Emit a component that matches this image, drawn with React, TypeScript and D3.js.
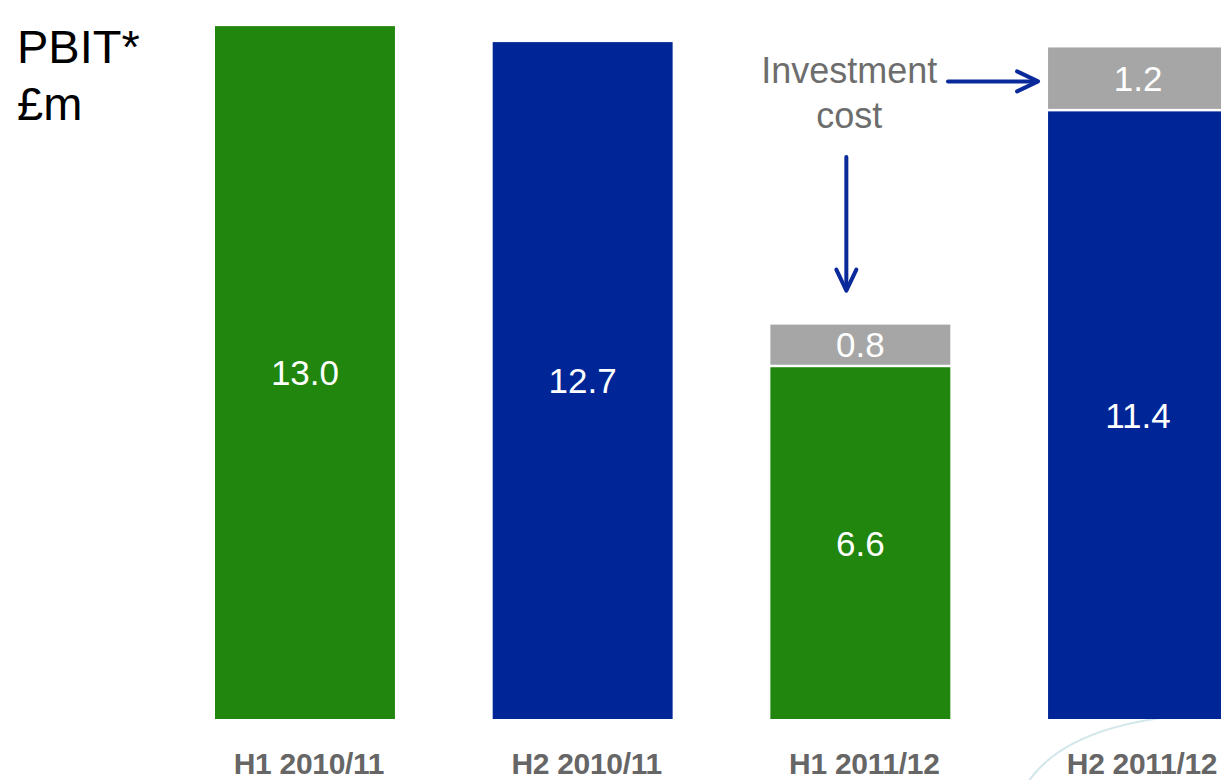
import React from "react";
import * as d3 from "d3";

const categories = ["H1 2010/11", "H2 2010/11", "H1 2011/12", "H2 2011/12"];
const baseValues = [13.0, 12.7, 6.6, 11.4];
const investmentValues = [0, 0, 0.8, 1.2];
const baseColors = ["#20860e", "#002596", "#20860e", "#002596"];
const investColor = "#a6a6a6";
const arrowColor = "#0a2a9b";

const W = 1221;
const H = 780;

export default function App() {
  const x = d3.scaleBand<string>().domain(categories).range([215, 1228]).paddingInner(0.352);
  const y = d3.scaleLinear().domain([0, 13.49]).range([719, 0]);
  const bw = x.bandwidth();
  const gap = 2.5;
  const font = "'Liberation Sans', Arial, Helvetica, sans-serif";

  // annotation anchors derived from scales
  const c3 = categories[2];
  const c4 = categories[3];
  const vx = (x(c3) as number) + bw / 2 - 14;
  const vTip = y(baseValues[2] + investmentValues[2]) - 34;
  const hy = (y(baseValues[3]) + y(baseValues[3] + investmentValues[3])) / 2;
  const hTip = (x(c4) as number) - 10;
  const labelX = vx + 3;

  return (
    <svg width={W} height={H} style={{ position: "absolute", left: 0, top: 0, background: "#fff" }}
      fontFamily={font}>
      <path d="M1028,782 C1060,735 1130,716 1221,713" fill="none" stroke="#d3e7eb" strokeWidth={2.2} />
      <text x={17} y={63} fontSize={47} fill="#000">PBIT*</text>
      <text x={17} y={120} fontSize={47} fill="#000">£m</text>
      {categories.map((c, i) => {
        const x0 = x(c) as number;
        const bTop = y(baseValues[i]);
        const bBot = y(0);
        const inv = investmentValues[i];
        const iTop = y(baseValues[i] + inv);
        return (
          <g key={c}>
            <rect x={x0} y={bTop} width={bw} height={bBot - bTop} fill={baseColors[i]} />
            <text x={x0 + bw / 2} y={(bTop + bBot) / 2} dy="0.36em" textAnchor="middle" fontSize={35} fill="#fff">
              {baseValues[i].toFixed(1)}
            </text>
            {inv > 0 && (
              <g>
                <rect x={x0} y={iTop} width={bw} height={bTop - iTop - gap} fill={investColor} />
                <text x={x0 + bw / 2} y={(iTop + bTop - gap) / 2} dy="0.36em" textAnchor="middle" fontSize={35} fill="#fff">
                  {inv.toFixed(1)}
                </text>
              </g>
            )}
            <text x={x0 + bw / 2 + 4} y={774} textAnchor="middle" fontSize={30} fontWeight="bold" fill="#666666"
              letterSpacing={-0.3}>
              {c}
            </text>
          </g>
        );
      })}
      <text x={labelX} y={83} textAnchor="middle" fontSize={36} fill="#6d6d6d">Investment</text>
      <text x={labelX} y={128} textAnchor="middle" fontSize={36} fill="#6d6d6d">cost</text>
      <g stroke={arrowColor} strokeWidth={4} fill="none" strokeLinecap="round" strokeLinejoin="round">
        <line x1={vx} y1={157} x2={vx} y2={vTip - 2} />
        <polyline points={`${vx - 10},${vTip - 21} ${vx},${vTip} ${vx + 10},${vTip - 21}`} />
        <line x1={948} y1={hy + 2} x2={hTip - 2} y2={hy + 2} />
        <polyline points={`${hTip - 21},${hy - 8} ${hTip},${hy + 2} ${hTip - 21},${hy + 12}`} />
      </g>
    </svg>
  );
}
